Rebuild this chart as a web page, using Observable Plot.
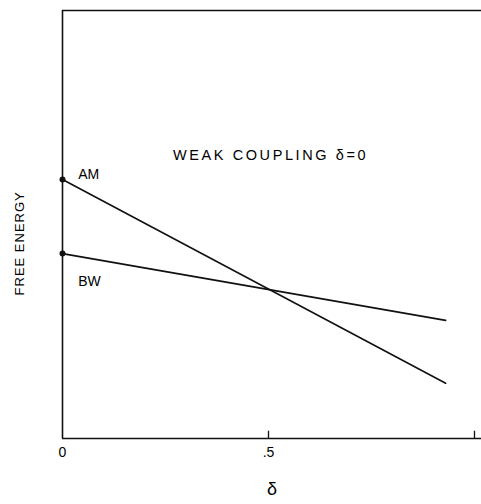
<!DOCTYPE html>
<html>
<head>
<meta charset="utf-8">
<script src="https://cdn.jsdelivr.net/npm/d3@7"></script>
<script src="https://cdn.jsdelivr.net/npm/@observablehq/plot@0.6"></script>
<style>
  html, body { margin: 0; padding: 0; background: #fff; }
  svg { font-family: "Liberation Sans", Arial, sans-serif; }
</style>
</head>
<body>
<div id="chart"></div>
<script>
// coupling parameter δ (x) at the start and end of each line
const deltas = [0, 0.93];
// free energy (arbitrary units)
const amValues = [6.05, 1.29];
const bwValues = [4.32, 2.76];
const seriesNames = ["AM", "BW"];
const xTicks = [0, 0.5, 1];
const xTickLabels = ["0", ".5", ""];
const titleText = "WEAK COUPLING \u03b4=0";
const yLabel = "FREE ENERGY";
const xLabel = "\u03b4";

const rows = [];
deltas.forEach((d, i) => {
  rows.push({series: "AM", delta: d, energy: amValues[i]});
  rows.push({series: "BW", delta: d, energy: bwValues[i]});
});
const starts = rows.filter(r => r.delta === 0);
const labelPos = [
  {name: seriesNames[0], delta: 0.038, energy: 6.17},
  {name: seriesNames[1], delta: 0.038, energy: 3.67}
];

const chart = Plot.plot({
  width: 481,
  height: 504,
  marginLeft: 62,
  marginRight: 0,
  marginTop: 10,
  marginBottom: 66,
  x: {domain: [0, 1.017]},
  y: {domain: [0, 10], axis: null},
  style: {fontFamily: "Liberation Sans, Arial, sans-serif", color: "#000"},
  marks: [
    Plot.ruleY([0, 10], {stroke: "#111", strokeWidth: 1.6}),
    Plot.ruleX([0], {stroke: "#111", strokeWidth: 1.6}),
    Plot.ruleX(xTicks.slice(1), {y1: 0, y2: 0.17, stroke: "#111", strokeWidth: 1.3}),
    Plot.axisX({ticks: xTicks, tickFormat: (d) => xTickLabels[xTicks.indexOf(d)], tickSize: 0, tickPadding: 9, fontSize: 14, label: null}),
    Plot.text([xLabel], {frameAnchor: "bottom", dy: 56, fontSize: 18, text: d => d}),
    Plot.text([yLabel], {x: 0, y: 4.56, dx: -43, rotate: -90, fontSize: 13, text: d => d}),
    Plot.line(rows, {x: "delta", y: "energy", z: "series", stroke: "#111", strokeWidth: 1.6}),
    Plot.dot(starts, {x: "delta", y: "energy", r: 3, fill: "#111"}),
    Plot.text(labelPos, {x: "delta", y: "energy", text: "name", textAnchor: "start", fontSize: 14}),
    Plot.text([titleText], {x: 0.505, y: 6.61, text: d => d, fontSize: 14.5})
  ]
});
d3.select(chart).selectAll("text")
  .filter(function() { return this.textContent === titleText; })
  .style("letter-spacing", "2.6px");
d3.select(chart).selectAll("text")
  .filter(function() { return this.textContent === yLabel; })
  .style("letter-spacing", "1px");
document.getElementById("chart").append(chart);
</script>
</body>
</html>
